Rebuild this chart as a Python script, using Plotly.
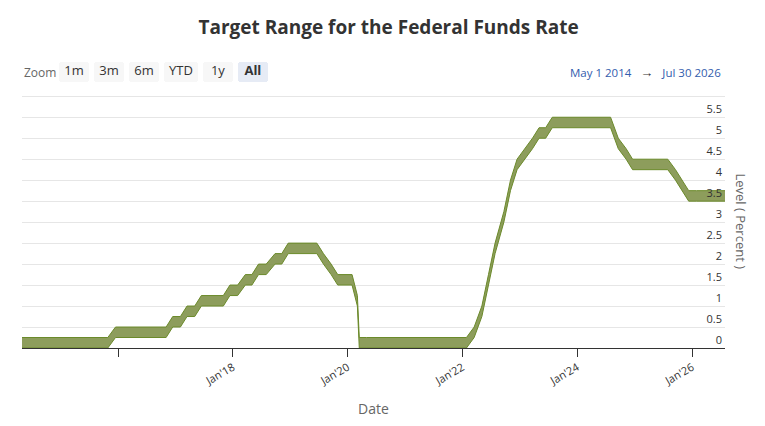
import plotly.graph_objects as go

# FOMC meeting dates and the target range set at each meeting
dates = [
    "2014-04-30", "2014-06-18", "2014-07-30", "2014-09-17", "2014-10-29", "2014-12-17",
    "2015-01-28", "2015-03-18", "2015-04-29", "2015-06-17", "2015-07-29", "2015-09-17", "2015-10-28", "2015-12-16",
    "2016-01-27", "2016-03-16", "2016-04-27", "2016-06-15", "2016-07-27", "2016-09-21", "2016-11-02", "2016-12-14",
    "2017-02-01", "2017-03-15", "2017-05-03", "2017-06-14", "2017-07-26", "2017-09-20", "2017-11-01", "2017-12-13",
    "2018-01-31", "2018-03-21", "2018-05-02", "2018-06-13", "2018-08-01", "2018-09-26", "2018-11-08", "2018-12-19",
    "2019-01-30", "2019-03-20", "2019-05-01", "2019-06-19", "2019-07-31", "2019-09-18", "2019-10-30", "2019-12-11",
    "2020-01-29", "2020-03-03", "2020-03-15", "2020-04-29", "2020-06-10", "2020-07-29", "2020-09-16", "2020-11-05", "2020-12-16",
    "2021-01-27", "2021-03-17", "2021-04-28", "2021-06-16", "2021-07-28", "2021-09-22", "2021-11-03", "2021-12-15",
    "2022-01-26", "2022-03-16", "2022-05-04", "2022-06-15", "2022-07-27", "2022-09-21", "2022-11-02", "2022-12-14",
    "2023-02-01", "2023-03-22", "2023-05-03", "2023-06-14", "2023-07-26", "2023-09-20", "2023-11-01", "2023-12-13",
    "2024-01-31", "2024-03-20", "2024-05-01", "2024-06-12", "2024-07-31", "2024-09-18", "2024-11-07", "2024-12-18",
    "2025-01-29", "2025-03-19", "2025-05-07", "2025-06-18", "2025-07-30", "2025-09-17", "2025-10-29", "2025-12-10",
    "2026-01-28", "2026-03-18", "2026-04-29", "2026-06-17", "2026-07-29",
]
lower = [
    0, 0, 0, 0, 0, 0,
    0, 0, 0, 0, 0, 0, 0, 0.25,
    0.25, 0.25, 0.25, 0.25, 0.25, 0.25, 0.25, 0.5,
    0.5, 0.75, 0.75, 1.0, 1.0, 1.0, 1.0, 1.25,
    1.25, 1.5, 1.5, 1.75, 1.75, 2.0, 2.0, 2.25,
    2.25, 2.25, 2.25, 2.25, 2.0, 1.75, 1.5, 1.5,
    1.5, 1.0, 0, 0, 0, 0, 0, 0, 0,
    0, 0, 0, 0, 0, 0, 0, 0,
    0, 0.25, 0.75, 1.5, 2.25, 3.0, 3.75, 4.25,
    4.5, 4.75, 5.0, 5.0, 5.25, 5.25, 5.25, 5.25,
    5.25, 5.25, 5.25, 5.25, 5.25, 4.75, 4.5, 4.25,
    4.25, 4.25, 4.25, 4.25, 4.25, 4.0, 3.75, 3.5,
    3.5, 3.5, 3.5, 3.5, 3.5,
]
upper = [
    0.25, 0.25, 0.25, 0.25, 0.25, 0.25,
    0.25, 0.25, 0.25, 0.25, 0.25, 0.25, 0.25, 0.5,
    0.5, 0.5, 0.5, 0.5, 0.5, 0.5, 0.5, 0.75,
    0.75, 1.0, 1.0, 1.25, 1.25, 1.25, 1.25, 1.5,
    1.5, 1.75, 1.75, 2.0, 2.0, 2.25, 2.25, 2.5,
    2.5, 2.5, 2.5, 2.5, 2.25, 2.0, 1.75, 1.75,
    1.75, 1.25, 0.25, 0.25, 0.25, 0.25, 0.25, 0.25, 0.25,
    0.25, 0.25, 0.25, 0.25, 0.25, 0.25, 0.25, 0.25,
    0.25, 0.5, 1.0, 1.75, 2.5, 3.25, 4.0, 4.5,
    4.75, 5.0, 5.25, 5.25, 5.5, 5.5, 5.5, 5.5,
    5.5, 5.5, 5.5, 5.5, 5.5, 5.0, 4.75, 4.5,
    4.5, 4.5, 4.5, 4.5, 4.5, 4.25, 4.0, 3.75,
    3.75, 3.75, 3.75, 3.75, 3.75,
]

x_tick_vals = ["2016-01-01", "2018-01-01", "2020-01-01", "2022-01-01", "2024-01-01", "2026-01-01"]
x_tick_text = ["", "Jan'18", "Jan'20", "Jan'22", "Jan'24", "Jan'26"]
y_tick_vals = [0, 0.5, 1, 1.5, 2, 2.5, 3, 3.5, 4, 4.5, 5, 5.5, 6]
y_tick_text = ["0", "0.5", "1", "1.5", "2", "2.5", "3", "3.5", "4", "4.5", "5", "5.5", ""]

FONT = "Open Sans, Noto Sans, sans-serif"
EDGE = "#6b8a2a"
FILL = "rgba(125,143,70,0.88)"

fig = go.Figure()
fig.add_trace(go.Scatter(x=dates, y=lower, mode="lines", line=dict(color=EDGE, width=1),
                         name="Lower", showlegend=False, hoverinfo="skip"))
fig.add_trace(go.Scatter(x=dates, y=upper, mode="lines", line=dict(color=EDGE, width=1),
                         fill="tonexty", fillcolor=FILL, name="Upper", showlegend=False))

fig.update_layout(
    template="none",
    width=765, height=426,
    margin=dict(l=22, r=40, t=95, b=78, autoexpand=False),
    paper_bgcolor="white", plot_bgcolor="white",
    font=dict(family=FONT, color="#333333"),
    title=dict(text="<b>Target Range for the Federal Funds Rate</b>", x=0.508, xanchor="center",
               y=0.935, yanchor="middle", font=dict(size=19, color="#333333", family=FONT)),
    xaxis=dict(
        type="date", autorange=True, automargin=False,
        autorangeoptions=dict(clipmin=dates[0], clipmax=dates[-1]),
        tickvals=x_tick_vals, ticktext=x_tick_text, tickangle=-30,
        ticks="outside", ticklen=8, tickcolor="#333333", tickwidth=1,
        showline=True, linecolor="#333333", linewidth=1,
        showgrid=False, zeroline=False,
        tickfont=dict(size=11, color="#333333"),
        title=dict(text="Date", font=dict(size=14, color="#666666"), standoff=17),
        rangeselector=dict(
            buttons=[
                dict(count=1, label="1m", step="month", stepmode="backward"),
                dict(count=3, label="3m", step="month", stepmode="backward"),
                dict(count=6, label="6m", step="month", stepmode="backward"),
                dict(count=1, label="YTD", step="year", stepmode="todate"),
                dict(count=1, label="1y", step="year", stepmode="backward"),
                dict(label="<b>All</b>", step="all"),
            ],
            bgcolor="#f7f7f7", activecolor="#e6ebf5",
            font=dict(size=13, color="#333333", family=FONT),
            x=0.053, xanchor="left", y=1.05, yanchor="bottom",
        ),
    ),
    yaxis=dict(
        side="right", range=[0, 6.03], automargin=False,
        tickvals=y_tick_vals, ticktext=y_tick_text,
        ticklabelposition="inside", ticklabelshift=-8, ticklabelstandoff=0,
        showgrid=True, gridcolor="#e6e6e6", gridwidth=1,
        zeroline=False, showline=False, ticks="",
        tickfont=dict(size=11, color="#333333"),
    ),
    annotations=[
        dict(text="Zoom", xref="paper", yref="paper", x=0, y=1.09, xanchor="left", yanchor="middle",
             showarrow=False, font=dict(size=12, color="#666666")),
        dict(text="<span style='color:#335cad'>May 1 2014</span>   <span style='font-size:13px'>→</span>   <span style='color:#335cad'>Jul 30 2026</span>",
             xref="paper", yref="paper", x=0.997, y=1.09, xanchor="right", yanchor="middle",
             showarrow=False, font=dict(size=11.5, color="#333333")),
        dict(text="Level ( Percent )", textangle=90, xref="paper", yref="paper",
             x=1.0228, y=0.5, xanchor="center", yanchor="middle",
             showarrow=False, font=dict(size=13, color="#666666")),
    ],
)

fig.write_html("out.html")
